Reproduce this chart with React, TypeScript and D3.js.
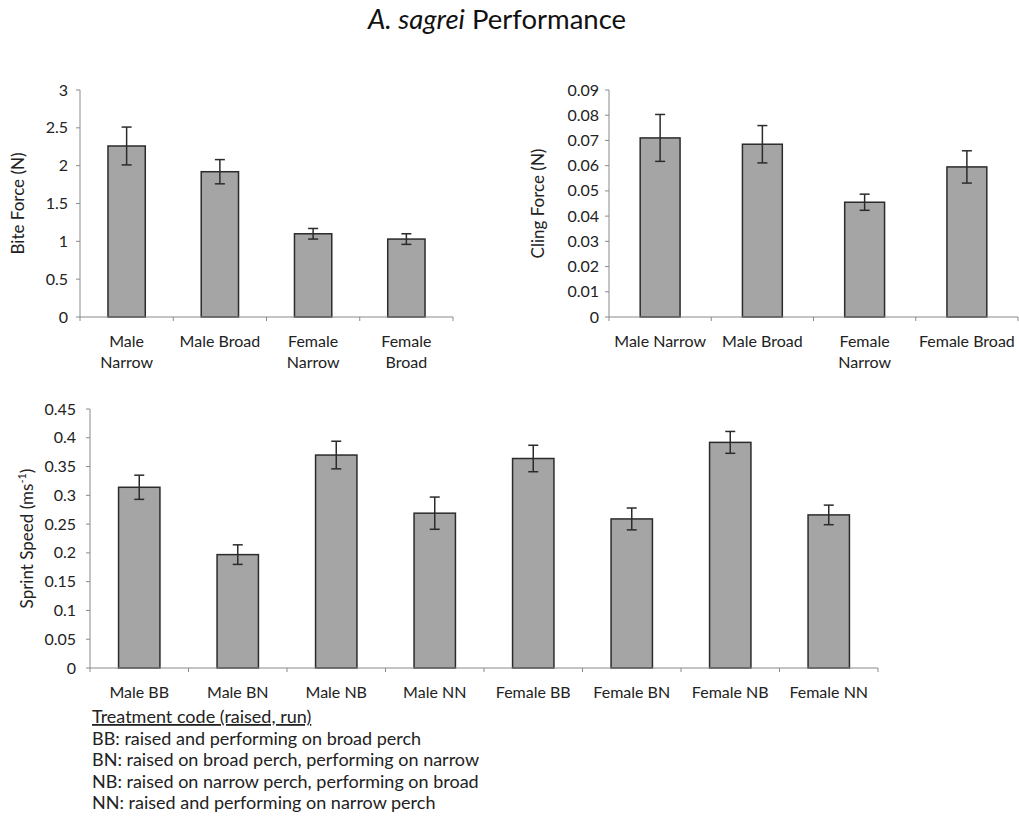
import React, { useEffect, useRef } from "react";
import * as d3 from "d3";

const biteCategories = ["Male\nNarrow", "Male Broad", "Female\nNarrow", "Female\nBroad"];
const biteValues = [2.26, 1.92, 1.1, 1.03];
const biteErrors = [0.25, 0.16, 0.07, 0.07];
const biteTicks = [0, 0.5, 1, 1.5, 2, 2.5, 3];

const clingCategories = ["Male Narrow", "Male Broad", "Female\nNarrow", "Female Broad"];
const clingValues = [0.071, 0.0685, 0.0455, 0.0595];
const clingErrors = [0.0093, 0.0074, 0.0032, 0.0064];
const clingTicks = [0, 0.01, 0.02, 0.03, 0.04, 0.05, 0.06, 0.07, 0.08, 0.09];

const sprintCategories = ["Male BB", "Male BN", "Male NB", "Male NN", "Female BB", "Female BN", "Female NB", "Female NN"];
const sprintValues = [0.314, 0.197, 0.37, 0.269, 0.364, 0.259, 0.392, 0.266];
const sprintErrors = [0.021, 0.017, 0.024, 0.028, 0.023, 0.019, 0.019, 0.017];
const sprintTicks = [0, 0.05, 0.1, 0.15, 0.2, 0.25, 0.3, 0.35, 0.4, 0.45];

const notes = [
  "BB: raised and performing on broad perch",
  "BN: raised on broad perch, performing on narrow",
  "NB: raised on narrow perch, performing on broad",
  "NN: raised and performing on narrow perch",
];

const FONT = "Lato, 'Open Sans', sans-serif";

type Panel = {
  cats: string[];
  vals: number[];
  errs: number[];
  ticks: number[];
  x0: number; x1: number; yTop: number; yBot: number;
  label: string; labelX: number; superscript?: boolean;
  barFrac: number; tickLabelGap: number;
};

function drawPanel(g: d3.Selection<SVGGElement, unknown, null, undefined>, p: Panel) {
  const x = d3.scaleBand<string>().domain(p.cats).range([p.x0, p.x1]).paddingInner(0).paddingOuter(0);
  const yMax = p.ticks[p.ticks.length - 1];
  const y = d3.scaleLinear().domain([0, yMax]).range([p.yBot, p.yTop]);

  g.append("line").attr("x1", p.x0).attr("x2", p.x0).attr("y1", p.yTop).attr("y2", p.yBot)
    .attr("stroke", "#8a8a8a").attr("stroke-width", 1);
  p.ticks.forEach((t) => {
    g.append("line").attr("x1", p.x0 - 4).attr("x2", p.x0).attr("y1", y(t)).attr("y2", y(t))
      .attr("stroke", "#8a8a8a").attr("stroke-width", 1);
    g.append("text").attr("x", p.x0 - p.tickLabelGap).attr("y", y(t)).attr("dy", "0.35em")
      .attr("text-anchor", "end").attr("font-family", FONT).attr("font-size", 16).attr("fill", "#222")
      .text(String(t));
  });

  const bw = x.bandwidth() * p.barFrac;
  p.cats.forEach((c, i) => {
    const cx = (x(c) as number) + x.bandwidth() / 2;
    g.append("rect").attr("x", cx - bw / 2).attr("y", y(p.vals[i])).attr("width", bw)
      .attr("height", p.yBot - y(p.vals[i])).attr("fill", "#a5a5a5").attr("stroke", "#2b2b2b").attr("stroke-width", 1.5);
    const eTop = y(p.vals[i] + p.errs[i]);
    const eBot = y(p.vals[i] - p.errs[i]);
    g.append("line").attr("x1", cx).attr("x2", cx).attr("y1", eTop).attr("y2", eBot)
      .attr("stroke", "#2b2b2b").attr("stroke-width", 1.5);
    [eTop, eBot].forEach((ey) => {
      g.append("line").attr("x1", cx - 5).attr("x2", cx + 5).attr("y1", ey).attr("y2", ey)
        .attr("stroke", "#2b2b2b").attr("stroke-width", 1.5);
    });
    const lines = c.split("\n");
    const txt = g.append("text").attr("x", cx).attr("y", p.yBot + 30).attr("text-anchor", "middle")
      .attr("font-family", FONT).attr("font-size", 16).attr("fill", "#222");
    lines.forEach((ln, k) => {
      txt.append("tspan").attr("x", cx).attr("dy", k === 0 ? 0 : 21).text(ln);
    });
  });

  g.append("line").attr("x1", p.x0).attr("x2", p.x1).attr("y1", p.yBot).attr("y2", p.yBot)
    .attr("stroke", "#8a8a8a").attr("stroke-width", 1);
  const bounds = p.cats.map((c) => x(c) as number).concat([p.x1]);
  bounds.forEach((bx) => {
    g.append("line").attr("x1", bx).attr("x2", bx).attr("y1", p.yBot).attr("y2", p.yBot + 4)
      .attr("stroke", "#8a8a8a").attr("stroke-width", 1);
  });

  const yc = (p.yTop + p.yBot) / 2;
  const t = g.append("text").attr("transform", `translate(${p.labelX},${yc}) rotate(-90)`)
    .attr("text-anchor", "middle").attr("dy", "0.35em").attr("font-family", FONT).attr("font-size", 17).attr("fill", "#222");
  if (p.superscript) {
    t.append("tspan").text("Sprint Speed (ms");
    t.append("tspan").attr("font-size", 11).attr("dy", -7).text("-1");
    t.append("tspan").attr("dy", 7).text(")");
  } else {
    t.text(p.label);
  }
}

export default function App() {
  const ref = useRef<SVGSVGElement>(null);
  useEffect(() => {
    const svg = d3.select(ref.current as SVGSVGElement);
    svg.selectAll("*").remove();
    svg.append("rect").attr("width", 1019).attr("height", 818).attr("fill", "#fff");

    const title = svg.append("text").attr("x", 497).attr("y", 29).attr("text-anchor", "middle")
      .attr("font-family", FONT).attr("font-size", 27.5).attr("fill", "#111");
    title.append("tspan").attr("font-style", "italic").text("A. sagrei");
    title.append("tspan").text(" Performance");

    const g = svg.append("g") as d3.Selection<SVGGElement, unknown, null, undefined>;
    drawPanel(g, { cats: biteCategories, vals: biteValues, errs: biteErrors, ticks: biteTicks,
      x0: 80, x1: 453, yTop: 90, yBot: 317, label: "Bite Force (N)", labelX: 18, barFrac: 0.4, tickLabelGap: 12 });
    drawPanel(g, { cats: clingCategories, vals: clingValues, errs: clingErrors, ticks: clingTicks,
      x0: 609, x1: 1018, yTop: 90, yBot: 317, label: "Cling Force (N)", labelX: 538, barFrac: 0.39, tickLabelGap: 10 });
    drawPanel(g, { cats: sprintCategories, vals: sprintValues, errs: sprintErrors, ticks: sprintTicks,
      x0: 90, x1: 878, yTop: 409, yBot: 668, label: "", labelX: 27, superscript: true, barFrac: 0.42, tickLabelGap: 14 });

    const nt = svg.append("g").attr("font-family", FONT).attr("font-size", 18).attr("fill", "#222");
    nt.append("text").attr("x", 92).attr("y", 723).attr("text-decoration", "underline").text("Treatment code (raised, run)");
    notes.forEach((n, i) => {
      nt.append("text").attr("x", 92).attr("y", 745 + i * 21.3).text(n);
    });
  }, []);
  return (
    <svg ref={ref} width={1019} height={818} style={{ position: "absolute", left: 0, top: 0 }} />
  );
}
